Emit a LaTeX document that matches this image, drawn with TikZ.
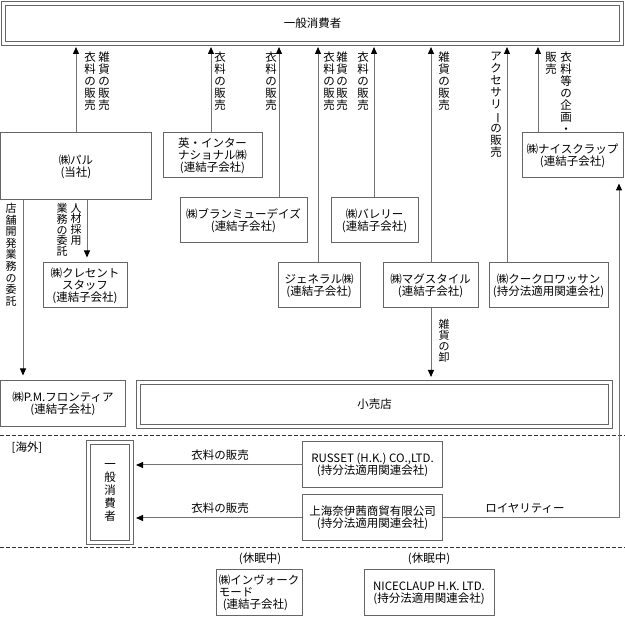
\documentclass[tikz,border=0pt]{standalone}
\usepackage{fontspec}
\setmainfont{Noto Sans CJK JP}
\usetikzlibrary{arrows.meta,positioning}

\begin{document}
\begin{tikzpicture}[x=1pt,y=-1pt,>={Triangle[width=6pt,length=7pt,black]},
          font=\fontsize{11.5}{12}\selectfont]
            \tikzstyle{box}=[draw=black!60, line width=1pt, align=center, inner sep=0pt]
            \tikzstyle{dbox}=[box, double=white, double distance=2.5pt]
            \tikzstyle{lbl}=[align=center, inner sep=0pt, anchor=north]
            \tikzstyle{flow}=[->, draw=black!55, line width=1pt, shorten >=3pt]
            \tikzstyle{sep}=[draw=black!80, line width=0.9pt, dash pattern=on 3.5pt off 2.5pt]
            \useasboundingbox (0,0) rectangle (625,617);
            % domestic
            \node[dbox, minimum width=618pt, minimum height=40pt] (cons) at (312.5,23.5) {一般消費者};
            \node[box, minimum width=151pt, minimum height=67pt] (pal) at (76,166.5) {㈱パル\\(当社)};
            \node[box, minimum width=99pt, minimum height=45pt] (ei) at (212.5,155.5) {英・インター\\ナショナル㈱\\(連結子会社)};
            \node[box, minimum width=101pt, minimum height=45pt] (nice) at (572.5,155.5) {㈱ナイスクラップ\\(連結子会社)};
            \node[box, minimum width=127pt, minimum height=45pt] (bran) at (243.5,220.5) {㈱ブランミューデイズ\\(連結子会社)};
            \node[box, minimum width=87pt, minimum height=45pt] (val) at (374.5,220.5) {㈱バレリー\\(連結子会社)};
            \node[box, minimum width=84pt, minimum height=45pt] (cres) at (85,285.5) {㈱クレセント\\スタッフ\\(連結子会社)};
            \node[box, minimum width=82pt, minimum height=45pt] (gen) at (319,285.5) {ジェネラル㈱\\(連結子会社)};
            \node[box, minimum width=95pt, minimum height=45pt] (mag) at (430.5,285.5) {㈱マグスタイル\\(連結子会社)};
            \node[box, minimum width=119pt, minimum height=45pt] (kuku) at (548.5,285.5) {㈱クークロワッサン\\(持分法適用関連会社)};
            \node[box, minimum width=125pt, minimum height=46pt] (pm) at (63,404) {㈱P.M.フロンティア\\(連結子会社)};
            \node[dbox, minimum width=472pt, minimum height=44pt] (kouri) at (374.5,404.5) {小売店};

            \draw[flow] (pal.north) -- (pal.north |- cons.south);
            \draw[flow] (ei.north -| 211,0) -- (cons.south -| 211,0);
            \draw[flow] (bran.north -| 279,0) -- (cons.south -| 279,0);
            \draw[flow] (gen.north -| 318,0) -- (cons.south -| 318,0);
            \draw[flow] (val.north -| 374,0) -- (cons.south -| 374,0);
            \draw[flow] (mag.north -| 431,0) -- (cons.south -| 431,0);
            \draw[flow] (kuku.north -| 507,0) -- (cons.south -| 507,0);
            \draw[flow] (nice.north -| 538,0) -- (cons.south -| 538,0);
            \draw[flow, shorten >=5pt] (pal.south -| 87,0) -- (cres.north -| 87,0);
            \draw[flow, shorten >=5pt] (pal.south -| 23,0) -- (pm.north -| 23,0);
            \draw[flow, shorten >=5pt] (mag.south -| 431,0) -- (kouri.north -| 431,0);

            \node[lbl] (l1a) at (90,52) {衣\\料\\の\\販\\売};
            \node[lbl] (l1b) at (104,52) {雑\\貨\\の\\販\\売};
            \node[lbl] (l2) at (220,52) {衣\\料\\の\\販\\売};
            \node[lbl] (l3) at (271,52) {衣\\料\\の\\販\\売};
            \node[lbl] (l4a) at (329,52) {衣\\料\\の\\販\\売};
            \node[lbl] (l4b) at (342,52) {雑\\貨\\の\\販\\売};
            \node[lbl] (l5) at (363,52) {衣\\料\\の\\販\\売};
            \node[lbl] (l6) at (444,52) {雑\\貨\\の\\販\\売};
            \node[lbl] (l7) at (496,52) {ア\\ク\\セ\\サ\\リ\\\rotatebox[origin=c]{-90}{ー}\\の\\販\\売};
            \node[lbl] (l8a) at (551,52) {販\\売};
            \node[lbl] (l8b) at (566,52) {衣\\料\\等\\の\\企\\画\\・};
            \node[lbl, font=\fontsize{11}{10.8}\selectfont] (l9a) at (76,203) {人\\材\\採\\用};
            \node[lbl, font=\fontsize{11}{10.8}\selectfont] (l9b) at (62,203) {業\\務\\の\\委\\託};
            \node[lbl, font=\fontsize{11}{11.6}\selectfont] (l10) at (11,203) {店\\舗\\開\\発\\業\\務\\の\\委\\託};
            \node[lbl, font=\fontsize{11}{11}\selectfont] (l11) at (444,319) {雑\\貨\\の\\卸};

            \draw[sep] (0,435) -- (625,435);
            % overseas
            \node (abroad) at (27,448) {[海外]};
            \node[dbox, minimum width=43pt, minimum height=100pt, font=\fontsize{11.5}{13}\selectfont] (cons2) at (110,492.5) {一\\般\\消\\費\\者};
            \node[box, minimum width=140pt, minimum height=46pt] (russet) at (372.5,465) {RUSSET (H.K.) CO.,LTD.\\(持分法適用関連会社)};
            \node[box, minimum width=140pt, minimum height=46pt] (sh) at (372.5,518) {上海奈伊茜商貿有限公司\\(持分法適用関連会社)};
            \draw[flow, shorten >=4pt] (russet.west) -- (russet.west -| cons2.east);
            \draw[flow, shorten >=4pt] (sh.west) -- (sh.west -| cons2.east);
            \draw[flow, shorten >=5pt] (sh.east) -| (nice.south -| 619,0);
            \node (s1) at (220,455) {衣料の販売};
            \node (s2) at (220,508) {衣料の販売};
            \node (roy) at (525,508) {ロイヤリティー};

            \draw[sep] (0,547) -- (625,547);
            % dormant
            \node (d1) at (260,559) {(休眠中)};
            \node (d2) at (429,559) {(休眠中)};
            \node[box, minimum width=86pt, minimum height=46pt, align=left] (inv) at (259,593) {㈱インヴォーク\\モード\\\hspace*{4pt}(連結子会社)};
            \node[box, minimum width=130pt, minimum height=46pt] (ncl) at (429,593) {NICECLAUP H.K. LTD.\\(持分法適用関連会社)};
        \end{tikzpicture}
\end{document}
